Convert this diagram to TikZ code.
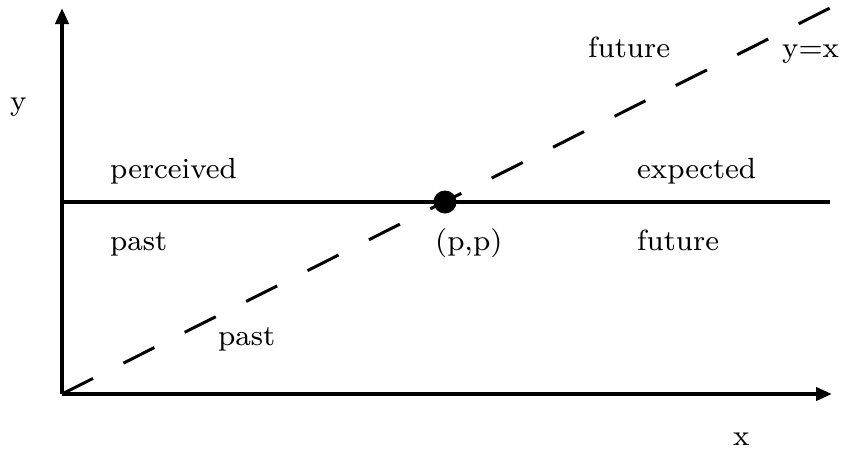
\documentclass[tikz,border=0pt]{standalone}
\usetikzlibrary{arrows.meta}
\newcommand{\smt}[1]{\scalebox{3.65}{\fontsize{8}{9}\selectfont #1}}
\begin{document}
\begin{tikzpicture}[x=1pt,y=-1pt,
  axis/.style={line width=4pt,-{Triangle[length=16pt,width=13pt]}},
  lbl/.style={anchor=base west,inner sep=0pt}]
\useasboundingbox (0,0) rectangle (854,451);
\coordinate (O) at (62,394);
\coordinate (Ytop) at (62,8);
\coordinate (Xend) at (832,394);
\coordinate (L) at (62,202);
\coordinate (R) at (830,202);
\coordinate (D) at (830,8);
\draw[axis] (O) -- (Ytop);
\draw[axis] (O) -- (Xend);
\draw[line width=3.6pt] (L) -- (R);
\draw[line width=3pt,dash pattern=on 34.7pt off 34pt] (O) -- (D);
\node[circle,fill=black,inner sep=0pt,minimum size=23pt] (P) at (445,202) {};
\node[lbl] (ly) at (10,110) {\smt{y}};
\node[lbl] (lx) at (733,445) {\smt{x}};
\node[lbl] (fut1) at (588,57) {\smt{future}};
\node[lbl] (yx) at (782,57) {\smt{y=x}};
\node[lbl] (perc) at (110,178) {\smt{perceived}};
\node[lbl] (exp) at (637,178) {\smt{expected}};
\node[lbl] (past1) at (110,250) {\smt{past}};
\node[lbl] (pp) at (435,250) {\smt{(p,p)}};
\node[lbl] (fut2) at (637,250) {\smt{future}};
\node[lbl] (past2) at (218,345) {\smt{past}};
\end{tikzpicture}
\end{document}
